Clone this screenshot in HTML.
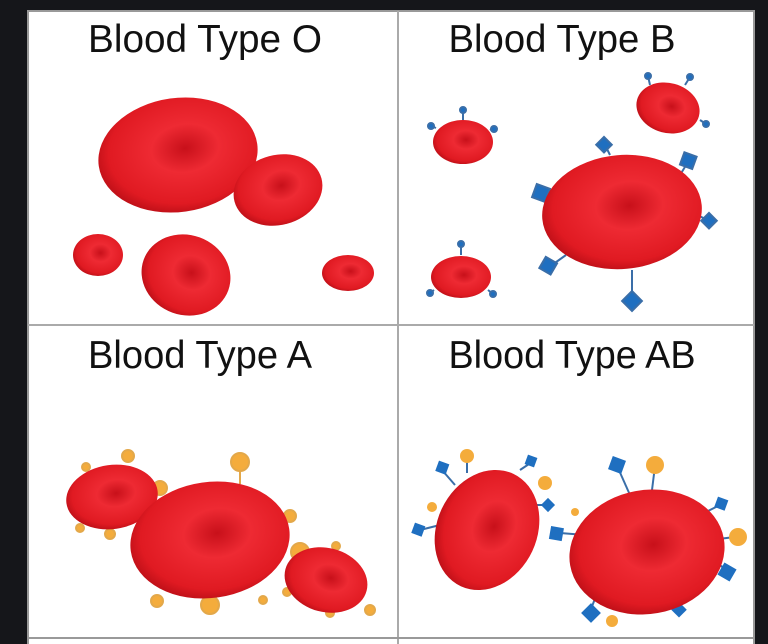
<!DOCTYPE html>
<html><head><style>
body{margin:0;background:#15161a;width:768px;height:644px;overflow:hidden;font-family:"Liberation Sans",sans-serif}
svg{position:absolute;left:0;top:0}
</style></head><body>
<svg width="768" height="644" viewBox="0 0 768 644">
<defs>
<radialGradient id="r" cx="0.55" cy="0.45" r="0.6">
<stop offset="0" stop-color="#c8101a"/>
<stop offset="0.35" stop-color="#ee2a33"/>
<stop offset="0.8" stop-color="#e01a22"/>
<stop offset="1" stop-color="#b50d15"/>
</radialGradient>
</defs>
<rect x="28" y="11" width="726" height="640" fill="#fff" stroke="#999" stroke-width="2"/>
<line x1="398" y1="11" x2="398" y2="644" stroke="#aaa" stroke-width="2"/>
<line x1="28" y1="325" x2="754" y2="325" stroke="#aaa" stroke-width="2"/>
<line x1="28" y1="638" x2="754" y2="638" stroke="#999" stroke-width="2"/>
<g font-size="39" fill="#111" text-anchor="middle" textLength="">
<text x="205" y="52" textLength="234" lengthAdjust="spacingAndGlyphs">Blood Type O</text>
<text x="562" y="52" textLength="227" lengthAdjust="spacingAndGlyphs">Blood Type B</text>
<text x="200" y="368" textLength="224" lengthAdjust="spacingAndGlyphs">Blood Type A</text>
<text x="572" y="368" textLength="247" lengthAdjust="spacingAndGlyphs">Blood Type AB</text>
</g>
<g fill="url(#r)">
<ellipse cx="178" cy="155" rx="80" ry="57" transform="rotate(-8 178 155)"/>
<ellipse cx="278" cy="190" rx="45" ry="35" transform="rotate(-15 278 190)"/>
<ellipse cx="98" cy="255" rx="25" ry="21"/>
<ellipse cx="186" cy="275" rx="45" ry="40" transform="rotate(20 186 275)"/>
<ellipse cx="348" cy="273" rx="26" ry="18"/>
</g>
<g stroke="#3a6ea8" stroke-width="2" fill="#1f6fc0">
<line x1="463" y1="120" x2="463" y2="110"/><circle cx="463" cy="110" r="3"/>
<line x1="436" y1="128" x2="431" y2="126"/><circle cx="431" cy="126" r="3"/>
<line x1="490" y1="130" x2="494" y2="128"/><circle cx="494" cy="129" r="3"/>
<line x1="461" y1="255" x2="461" y2="244"/><circle cx="461" cy="244" r="3"/>
<line x1="434" y1="290" x2="430" y2="293"/><circle cx="430" cy="293" r="3"/>
<line x1="488" y1="290" x2="493" y2="294"/><circle cx="493" cy="294" r="3"/>
<line x1="650" y1="85" x2="648" y2="76"/><circle cx="648" cy="76" r="3"/>
<line x1="685" y1="85" x2="690" y2="77"/><circle cx="690" cy="77" r="3"/>
<line x1="700" y1="120" x2="706" y2="124"/><circle cx="706" cy="124" r="3"/>
<line x1="610" y1="155" x2="605" y2="145"/><rect x="599" y="139" width="11" height="11" transform="rotate(45 604 144)"/>
<line x1="680" y1="175" x2="688" y2="162"/><rect x="682" y="154" width="13" height="13" transform="rotate(20 688 160)"/>
<line x1="550" y1="200" x2="542" y2="194"/><rect x="534" y="186" width="14" height="14" transform="rotate(20 541 193)"/>
<line x1="697" y1="215" x2="710" y2="221"/><rect x="704" y="215" width="11" height="11" transform="rotate(45 709 220)"/>
<line x1="566" y1="255" x2="552" y2="265"/><rect x="542" y="259" width="13" height="13" transform="rotate(30 548 265)"/>
<line x1="632" y1="270" x2="632" y2="295"/><rect x="625" y="294" width="14" height="14" transform="rotate(45 632 301)"/>
</g>
<g fill="url(#r)">
<ellipse cx="463" cy="142" rx="30" ry="22"/>
<ellipse cx="668" cy="108" rx="32" ry="25" transform="rotate(15 668 108)"/>
<ellipse cx="622" cy="212" rx="80" ry="57" transform="rotate(-5 622 212)"/>
<ellipse cx="461" cy="277" rx="30" ry="21"/>
</g>
<g stroke="#e3a84a" stroke-width="2" fill="#f4ac3c">
<circle cx="86" cy="467" r="4"/><circle cx="128" cy="456" r="6"/><circle cx="160" cy="488" r="7"/>
<circle cx="80" cy="528" r="4"/><circle cx="110" cy="534" r="5"/>
<line x1="240" y1="484" x2="240" y2="466"/><circle cx="240" cy="462" r="9"/>
<circle cx="290" cy="516" r="6"/><circle cx="300" cy="552" r="9"/>
<circle cx="157" cy="601" r="6"/><line x1="210" y1="595" x2="210" y2="602"/><circle cx="210" cy="605" r="9"/>
<circle cx="263" cy="600" r="4"/><circle cx="336" cy="546" r="4"/><circle cx="370" cy="610" r="5"/><circle cx="287" cy="592" r="4"/><circle cx="330" cy="613" r="4"/>
</g>
<g fill="url(#r)">
<ellipse cx="112" cy="497" rx="46" ry="32" transform="rotate(-8 112 497)"/>
<ellipse cx="210" cy="540" rx="80" ry="58" transform="rotate(-8 210 540)"/>
<ellipse cx="326" cy="580" rx="42" ry="32" transform="rotate(15 326 580)"/>
</g>
<g stroke="#3a6ea8" stroke-width="2">
<line x1="455" y1="485" x2="442" y2="470"/><line x1="467" y1="473" x2="467" y2="458"/><line x1="520" y1="470" x2="532" y2="462"/>
<line x1="440" y1="525" x2="420" y2="530"/><line x1="460" y1="570" x2="463" y2="577"/><line x1="535" y1="505" x2="545" y2="505"/>
<line x1="630" y1="495" x2="618" y2="468"/><line x1="652" y1="490" x2="655" y2="466"/><line x1="585" y1="535" x2="560" y2="533"/>
<line x1="600" y1="585" x2="590" y2="612"/><line x1="710" y1="540" x2="735" y2="537"/><line x1="712" y1="560" x2="727" y2="570"/><line x1="700" y1="515" x2="720" y2="505"/>
</g>
<g fill="#1f6fc0">
<rect x="437" y="462" width="11" height="11" transform="rotate(20 442 467)"/>
<rect x="526" y="456" width="10" height="10" transform="rotate(20 531 461)"/>
<rect x="413" y="524" width="11" height="11" transform="rotate(20 418 529)"/>
<rect x="458" y="572" width="11" height="11" transform="rotate(20 463 577)"/>
<rect x="543" y="500" width="10" height="10" transform="rotate(45 548 505)"/>
<rect x="610" y="458" width="14" height="14" transform="rotate(20 617 465)"/>
<rect x="550" y="527" width="13" height="13" transform="rotate(10 556 533)"/>
<rect x="584" y="606" width="14" height="14" transform="rotate(45 591 613)"/>
<rect x="716" y="498" width="11" height="11" transform="rotate(20 721 503)"/>
<rect x="720" y="565" width="14" height="14" transform="rotate(30 727 572)"/>
<rect x="674" y="604" width="11" height="11" transform="rotate(45 679 609)"/>
</g>
<g fill="#f4ac3c">
<circle cx="467" cy="456" r="7"/><circle cx="545" cy="483" r="7"/><circle cx="432" cy="507" r="5"/>
<circle cx="482" cy="578" r="5"/><circle cx="655" cy="465" r="9"/><circle cx="738" cy="537" r="9"/>
<circle cx="612" cy="621" r="6"/><circle cx="575" cy="512" r="4"/>
</g>
<g fill="url(#r)">
<ellipse cx="487" cy="530" rx="50" ry="62" transform="rotate(25 487 530)"/>
<ellipse cx="647" cy="552" rx="78" ry="62" transform="rotate(-10 647 552)"/>
</g>
</svg>
</body></html>
